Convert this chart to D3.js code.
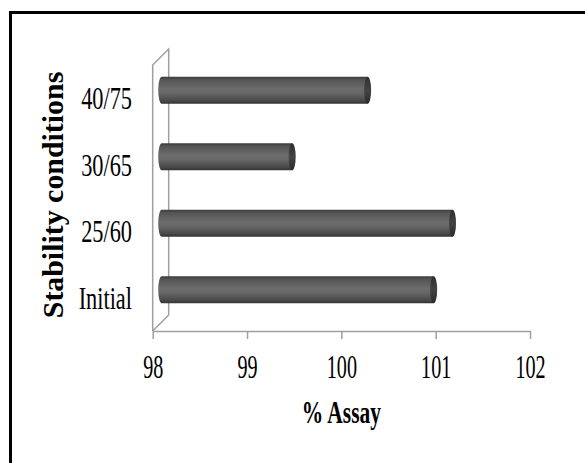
<!DOCTYPE html>
<html>
<head>
<meta charset="utf-8">
<script src="https://cdn.jsdelivr.net/npm/d3@7"></script>
<style>
  html, body { margin: 0; padding: 0; background: #fff; overflow: hidden; }
  text { font-family: "Liberation Serif", "Times New Roman", serif; fill: #000; }
</style>
</head>
<body>
<svg id="chart" width="585" height="463"></svg>
<script>
// Stability conditions (bottom to top) and their assay results
const categories = ["Initial", "25/60", "30/65", "40/75"];
const assayValues = [101.0, 101.2, 99.5, 100.3];
const xTicks = [98, 99, 100, 101, 102];
const xTitle = "% Assay";
const yTitle = "Stability conditions";

const W = 585, H = 463;
const svg = d3.select("#chart");

// Front plane of the 3-D plot box and the depth offset of its back plane
const plot = { left: 152.7, right: 530, top: 65, bottom: 331 };
const depth = { dx: 16, dy: -16 };

const x = d3.scaleLinear().domain([98, 102]).range([plot.left, plot.right]);
const y = d3.scaleBand()
  .domain(categories)
  .range([plot.bottom, plot.top])
  .paddingInner(0.594)
  .paddingOuter(0.297);

// Squeeze text horizontally by a factor (narrow serif look)
function squeeze(sel, f) {
  sel.each(function () {
    const n = this.getComputedTextLength();
    this.setAttribute("textLength", n * f);
    this.setAttribute("lengthAdjust", "spacingAndGlyphs");
  });
}

// Outer frame
svg.append("rect")
  .attr("x", 10.5).attr("y", 12.5)
  .attr("width", W + 20).attr("height", H + 20)
  .attr("fill", "none").attr("stroke", "#000").attr("stroke-width", 3);

// Gradients for the cylinders
const defs = svg.append("defs");
const body = defs.append("linearGradient").attr("id", "cylBody")
  .attr("x1", 0).attr("y1", 0).attr("x2", 0).attr("y2", 1);
[[0, "#3c3c3c"], [0.12, "#555"], [0.45, "#6c6c6c"], [0.6, "#686868"], [0.88, "#4a4a4a"], [1, "#333"]]
  .forEach(([o, c]) => body.append("stop").attr("offset", o).attr("stop-color", c));
const cap = defs.append("linearGradient").attr("id", "cylCap")
  .attr("x1", 0).attr("y1", 0).attr("x2", 0).attr("y2", 1);
[[0, "#2e2e2e"], [0.5, "#444"], [1, "#2a2a2a"]]
  .forEach(([o, c]) => cap.append("stop").attr("offset", o).attr("stop-color", c));

// Side wall of the 3-D box
const wall = svg.append("g")
  .attr("fill", "none").attr("stroke", "#a0a0a0").attr("stroke-width", 1.5);
const x0 = x.range()[0];
wall.append("path").attr("d", d3.line()([
  [x0, plot.bottom], [x0, plot.top],
  [x0 + depth.dx, plot.top + depth.dy], [x0 + depth.dx, plot.bottom + depth.dy],
  [x0, plot.bottom]
]));

// X axis
const xAxis = svg.append("g")
  .attr("transform", `translate(0,${plot.bottom})`)
  .call(d3.axisBottom(x).tickValues(xTicks).tickSize(8).tickSizeOuter(0).tickFormat(d3.format("d")));
xAxis.select(".domain").attr("stroke", "#a0a0a0").attr("stroke-width", 1.5);
xAxis.selectAll(".tick line").attr("stroke", "#a0a0a0").attr("stroke-width", 1.5);
xAxis.selectAll(".tick text")
  .attr("y", 47).attr("dy", 0)
  .style("font-size", "33px")
  .attr("fill", "#000")
  .call(squeeze, 0.61);

// Category labels
svg.append("g").selectAll("text")
  .data(categories)
  .join("text")
  .attr("x", 132)
  .attr("y", d => y(d) + y.bandwidth() / 2 + 11)
  .attr("text-anchor", "end")
  .style("font-size", "31px")
  .text(d => d)
  .call(squeeze, 0.72);

// Cylindrical bars, set at half depth inside the box
const rx = 3.5;
const bars = svg.append("g")
  .attr("transform", `translate(${depth.dx / 2},${depth.dy / 2})`)
  .selectAll("g")
  .data(categories.map((c, i) => ({ c, v: assayValues[i] })))
  .join("g");

bars.append("path")
  .attr("fill", "url(#cylBody)")
  .attr("d", d => {
    const xs = x(98) + 1;
    const xe = x(d.v) - depth.dx / 2 + 1.5 - rx;
    const yt = y(d.c), h = y.bandwidth(), ry = h / 2;
    return `M${xs},${yt} L${xe},${yt} L${xe},${yt + h} L${xs},${yt + h} ` +
           `A${rx},${ry} 0 0 1 ${xs},${yt} Z`;
  });

bars.append("ellipse")
  .attr("fill", "url(#cylCap)")
  .attr("cx", d => x(d.v) - depth.dx / 2 + 1.5 - rx)
  .attr("cy", d => y(d.c) + y.bandwidth() / 2)
  .attr("rx", rx)
  .attr("ry", y.bandwidth() / 2);

// Axis titles
svg.append("text")
  .attr("x", (plot.left + plot.right) / 2)
  .attr("y", 423)
  .attr("text-anchor", "middle")
  .style("font-size", "32px")
  .style("font-weight", "bold")
  .text(xTitle)
  .call(squeeze, 0.67);

svg.append("text")
  .attr("transform", "translate(63,195) rotate(-90)")
  .attr("text-anchor", "middle")
  .style("font-size", "29px")
  .style("font-weight", "bold")
  .text(yTitle)
  .call(squeeze, 1.03);
</script>
</body>
</html>
